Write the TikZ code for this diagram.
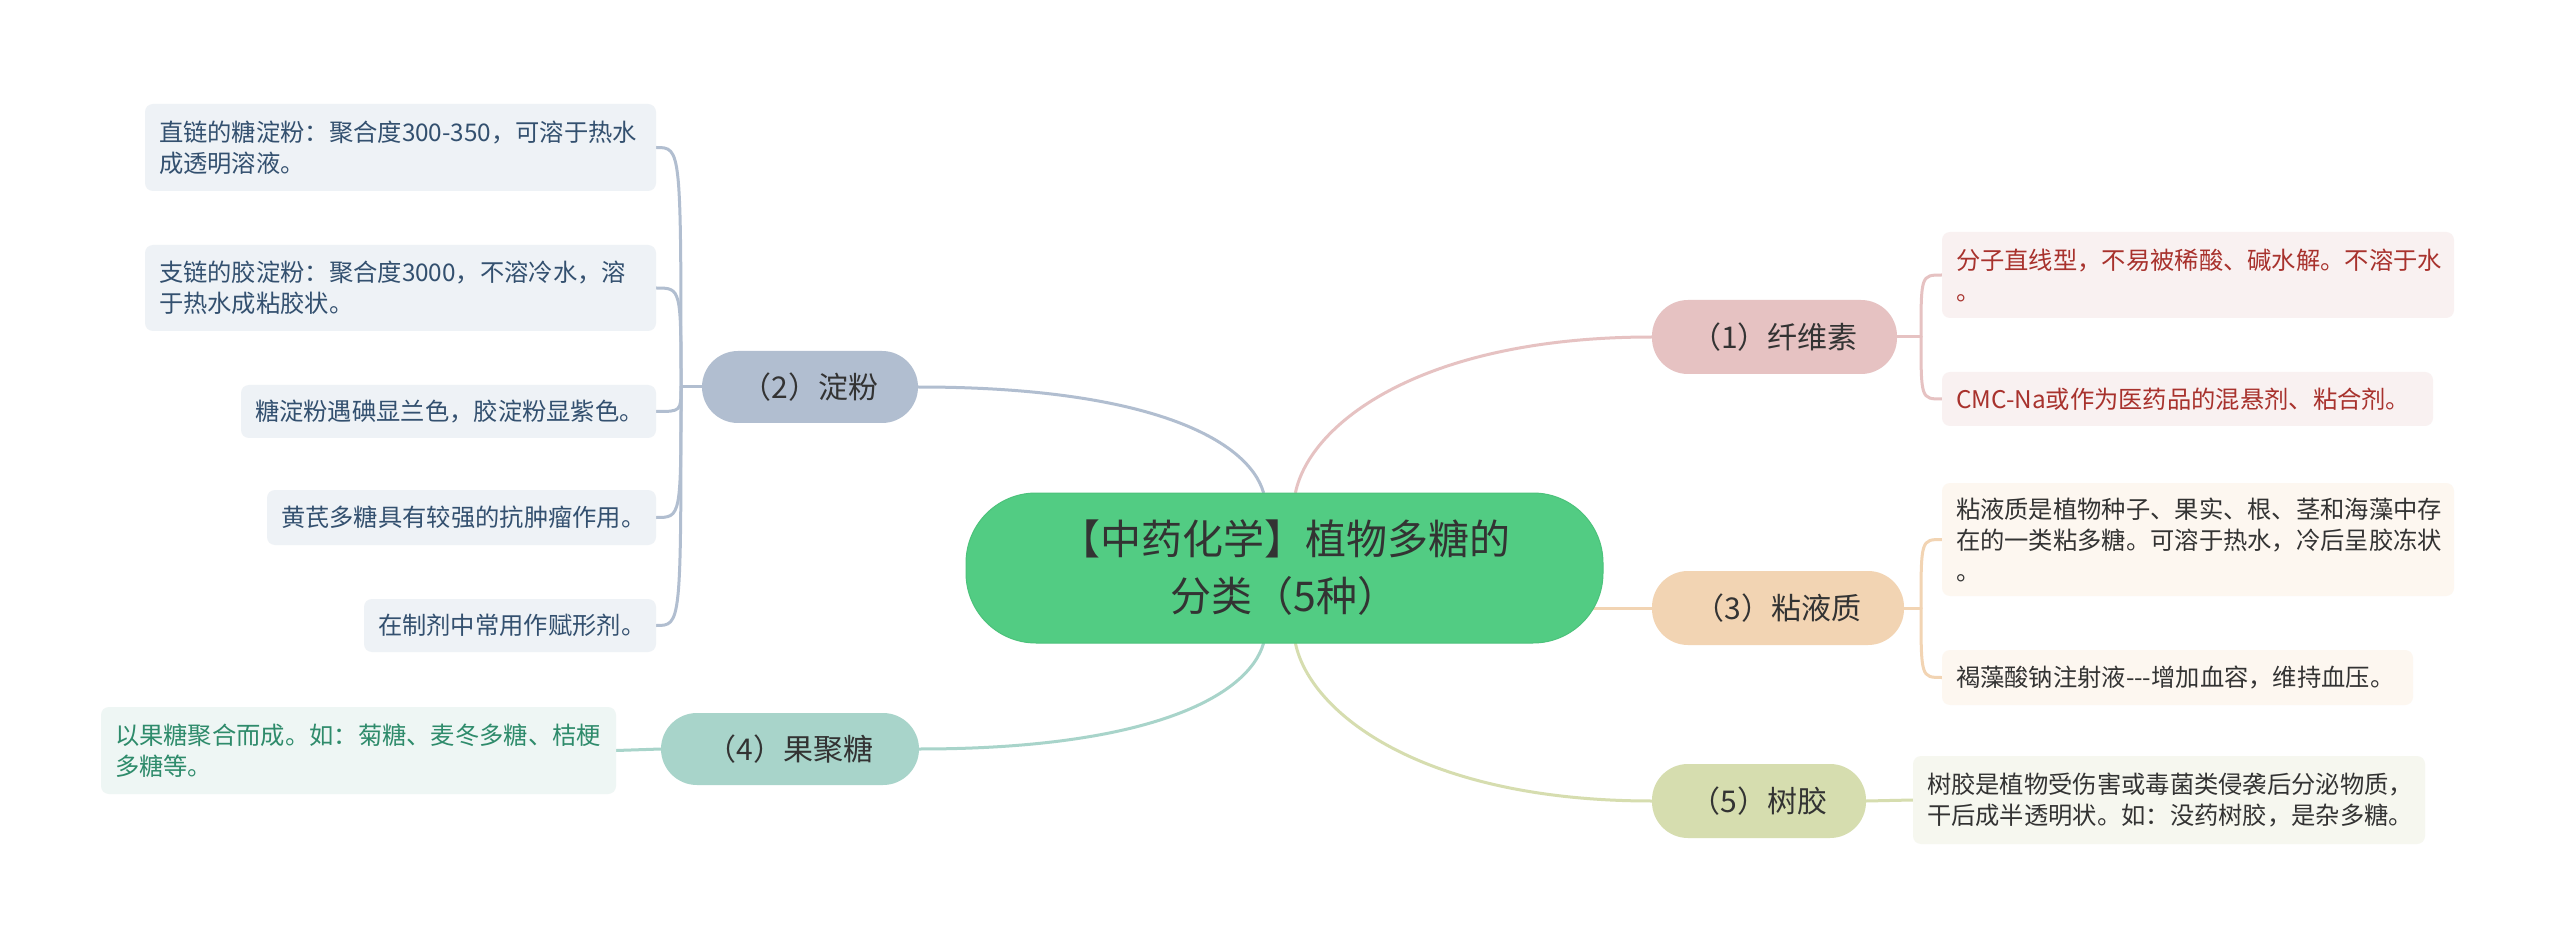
\documentclass[tikz,border=0pt]{standalone}
\usepackage{fontspec}
\setmainfont{Noto Sans CJK SC}
\usetikzlibrary{backgrounds}
\definecolor{rootfill}{HTML}{52CC83}
\definecolor{rootline}{HTML}{4CC27B}
\definecolor{txt}{HTML}{333333}
\definecolor{kA}{HTML}{E6C2C2}\definecolor{fA}{HTML}{F9F1F1}\definecolor{tA}{HTML}{A8322D}
\definecolor{kB}{HTML}{B1BED0}\definecolor{fB}{HTML}{EEF2F6}\definecolor{tB}{HTML}{33506F}
\definecolor{kC}{HTML}{F2D4B3}\definecolor{fC}{HTML}{FDF7F0}\definecolor{tC}{HTML}{333333}
\definecolor{kD}{HTML}{A8D4CA}\definecolor{fD}{HTML}{EEF6F4}\definecolor{tD}{HTML}{2E8B6B}
\definecolor{kE}{HTML}{D6DDAF}\definecolor{fE}{HTML}{F6F7EF}\definecolor{tE}{HTML}{333333}
\begin{document}
\begin{tikzpicture}[x=1pt,y=-1pt,
  rootnode/.style={fill=rootfill,draw=rootline,line width=1pt,rounded corners=70pt,
    minimum width=637pt,minimum height=150pt,inner sep=0pt,align=center,text=txt,
    font=\fontsize{41}{57}\selectfont},
  branch/.style={rounded corners=36pt,inner sep=0pt,align=center,text=txt,
    font=\fontsize{30}{36}\selectfont},
  leaf/.style={rounded corners=8pt,inner xsep=14pt,inner ysep=0pt,align=left,
    font=\fontsize{24.3}{31}\selectfont},
  conn/.style={line width=3pt,line cap=round}]
\useasboundingbox (0,0) rectangle (2560,949);
\begin{pgfonlayer}{background}
\fill[white] (0,0) rectangle (2560,949);
\end{pgfonlayer}

% root
\node[rootnode] (root) at (1284.5,568) {【中药化学】植物多糖的\\分类（5种）};

% branches
\node[branch,fill=kA,minimum width=245pt,minimum height=74pt] (n1) at (1774.5,337) {（1）纤维素};
\node[branch,fill=kB,minimum width=216pt,minimum height=72pt] (n2) at (810,387) {（2）淀粉};
\node[branch,fill=kC,minimum width=252pt,minimum height=74pt] (n3) at (1778,608) {（3）粘液质};
\node[branch,fill=kD,minimum width=258pt,minimum height=72pt] (n4) at (790,749) {（4）果聚糖};
\node[branch,fill=kE,minimum width=214pt,minimum height=74pt] (n5) at (1759,801) {（5）树胶};

% leaves of (2)
\node[leaf,fill=fB,text=tB,text width=483pt,minimum height=87pt] (b1) at (400.5,147.5) {直链的糖淀粉：聚合度300-350，可溶于热水\\成透明溶液。};
\node[leaf,fill=fB,text=tB,text width=483pt,minimum height=86pt] (b2) at (400.5,288) {支链的胶淀粉：聚合度3000，不溶冷水，溶\\于热水成粘胶状。};
\node[leaf,fill=fB,text=tB,text width=387pt,minimum height=53pt] (b3) at (448.5,411.5) {糖淀粉遇碘显兰色，胶淀粉显紫色。};
\node[leaf,fill=fB,text=tB,text width=361pt,minimum height=55pt] (b4) at (461.5,517.5) {黄芪多糖具有较强的抗肿瘤作用。};
\node[leaf,fill=fB,text=tB,text width=264pt,minimum height=53pt] (b5) at (510,625.5) {在制剂中常用作赋形剂。};

% leaf of (4)
\node[leaf,fill=fD,text=tD,text width=487pt,minimum height=87pt] (d1) at (358.5,750.5) {以果糖聚合而成。如：菊糖、麦冬多糖、桔梗\\多糖等。};

% leaves of (1)
\node[leaf,fill=fA,text=tA,text width=484pt,minimum height=86pt] (a1) at (2198,275) {分子直线型，不易被稀酸、碱水解。不溶于水\\。};
\node[leaf,fill=fA,text=tA,text width=463pt,minimum height=54pt] (a2) at (2187.5,399) {CMC-Na或作为医药品的混悬剂、粘合剂。};

% leaves of (3)
\node[leaf,fill=fC,text=tC,text width=484pt,minimum height=113pt] (c1) at (2198,539.5) {粘液质是植物种子、果实、根、茎和海藻中存\\在的一类粘多糖。可溶于热水，冷后呈胶冻状\\。};
\node[leaf,fill=fC,text=tC,text width=443pt,minimum height=55pt] (c2) at (2177.5,677.5) {褐藻酸钠注射液-{}-{}-增加血容，维持血压。};

% leaf of (5)
\node[leaf,fill=fE,text=tE,text width=484pt,minimum height=88pt] (e1) at (2169,800) {树胶是植物受伤害或毒菌类侵袭后分泌物质，\\干后成半透明状。如：没药树胶，是杂多糖。};

\coordinate (j1) at (1921,337);
\coordinate (j2) at (681,387);
\coordinate (j3) at (1921,608);

\begin{pgfonlayer}{background}
\draw[conn,kA] ([xshift=11pt]root.north) .. controls (1310,423) and (1422,337) .. (n1.west);
\draw[conn,kB] ([xshift=-21pt]root.north) .. controls (1248,440) and (1150,387) .. (n2.east);
\draw[conn,kC] (root.center |- n3.west) -- (n3.west);
\draw[conn,kD] ([xshift=-21pt]root.south) .. controls (1248,696) and (1150,749) .. (n4.east);
\draw[conn,kE] ([xshift=11pt]root.south) .. controls (1310,713) and (1422,801) .. (n5.west);

\draw[conn,kA] (n1.east) -- (j1);
\draw[conn,kA] (j1) .. controls (j1 |- a1.west) .. (a1.west);
\draw[conn,kA] (j1) .. controls (j1 |- a2.west) .. (a2.west);

\draw[conn,kB] (n2.west) -- (j2);
\foreach \l in {b1,b2,b3,b4,b5}
  \draw[conn,kB] (j2) .. controls (j2 |- \l.east) .. (\l.east);

\draw[conn,kC] (n3.east) -- (j3);
\draw[conn,kC] (j3) .. controls (j3 |- c1.west) .. (c1.west);
\draw[conn,kC] (j3) .. controls (j3 |- c2.west) .. (c2.west);

\draw[conn,kD] (n4.west) -- (d1.east);
\draw[conn,kE] (n5.east) -- (e1.west);
\end{pgfonlayer}
\end{tikzpicture}
\end{document}
